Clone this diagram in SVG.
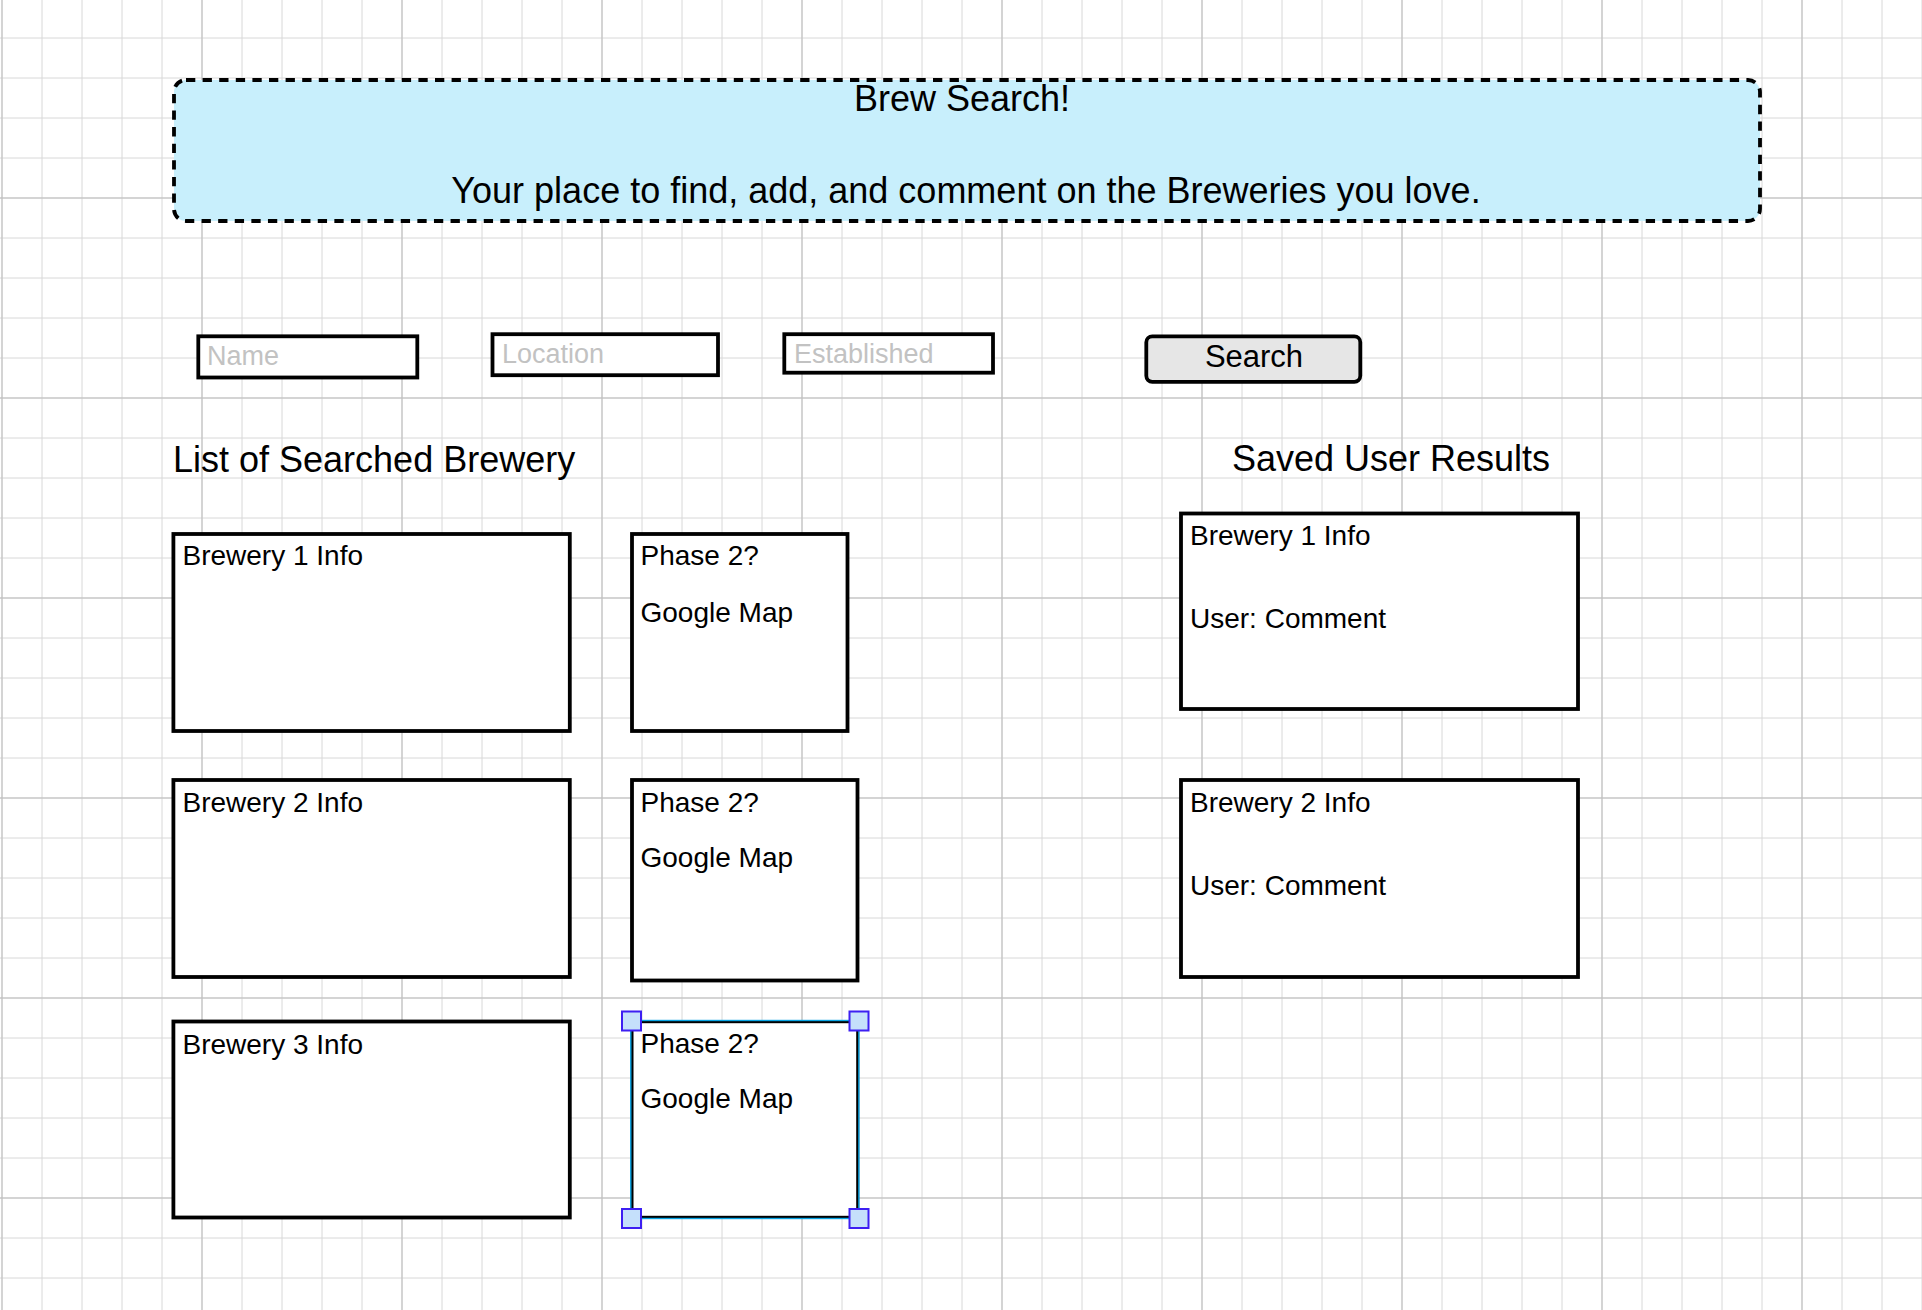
<svg xmlns="http://www.w3.org/2000/svg" width="1922" height="1310" viewBox="0 0 1922 1310">
  <style>
    text { font-family: "Liberation Sans", Arial, Helvetica, sans-serif; fill: #000; }
    .box { fill: #fff; stroke: #000; stroke-width: 3.8; }
    .input { fill: #fff; stroke: #000; stroke-width: 3.8; }
    .ph { font-size: 27px; fill: #c2c2c2; }
    .lbl { font-size: 28px; }
    .big { font-size: 36px; }
    .handle { fill: #c5e0fb; stroke: #3d1ff2; stroke-width: 2; }
  </style>
  <defs>
    <pattern id="gridMinor" x="0" y="37" width="40" height="40" patternUnits="userSpaceOnUse">
      <path d="M2 0 V40 M0 1 H40" fill="none" stroke="#d8d8d8" stroke-width="1"/>
    </pattern>
    <pattern id="gridMajor" x="0" y="-3" width="200" height="200" patternUnits="userSpaceOnUse">
      <path d="M2 0 V200 M0 1 H200" fill="none" stroke="#bdbdbd" stroke-width="1"/>
    </pattern>
  </defs>

  <rect x="0" y="0" width="1922" height="1310" fill="#ffffff"/>
  <rect x="0" y="0" width="1922" height="1310" fill="url(#gridMinor)"/>
  <rect x="0" y="0" width="1922" height="1310" fill="url(#gridMajor)"/>

  <g id="header">
    <rect x="174" y="80" width="1586" height="141" rx="12" ry="12" fill="#c8effc" stroke="#000" stroke-width="3.8" stroke-dasharray="9.3 7.3"/>
    <text class="big" x="962" y="111" text-anchor="middle">Brew Search!</text>
    <text class="big" x="966" y="203" text-anchor="middle">Your place to find, add, and comment on the Breweries you love.</text>
  </g>

  <g id="input-name">
    <rect class="input" x="198.3" y="336.3" width="219" height="41.2"/>
    <text class="ph" x="207" y="365">Name</text>
  </g>
  <g id="input-location">
    <rect class="input" x="492.5" y="334.2" width="225.5" height="41"/>
    <text class="ph" x="502" y="363">Location</text>
  </g>
  <g id="input-established">
    <rect class="input" x="784.3" y="334.2" width="208.7" height="38.5"/>
    <text class="ph" x="794" y="363">Established</text>
  </g>
  <g id="search-button">
    <rect x="1146.3" y="336.3" width="214" height="45.5" rx="6" ry="6" fill="#e6e6e6" stroke="#000" stroke-width="3.8"/>
    <text x="1254" y="367" text-anchor="middle" font-size="31">Search</text>
  </g>

  <g id="list-title">
    <text class="big" x="173" y="472">List of Searched Brewery</text>
  </g>
  <g id="saved-title">
    <text class="big" x="1391" y="471" text-anchor="middle">Saved User Results</text>
  </g>

  <g id="brewery-1">
    <rect class="box" x="173.4" y="534" width="396.4" height="197"/>
    <text class="lbl" x="182.5" y="565">Brewery 1 Info</text>
  </g>
  <g id="brewery-2">
    <rect class="box" x="173.4" y="780" width="396.4" height="197"/>
    <text class="lbl" x="182.5" y="811.5">Brewery 2 Info</text>
  </g>
  <g id="brewery-3">
    <rect class="box" x="173.4" y="1021.5" width="396.4" height="196"/>
    <text class="lbl" x="182.5" y="1053.5">Brewery 3 Info</text>
  </g>

  <g id="map-1">
    <rect class="box" x="632" y="534" width="215.5" height="197"/>
    <text class="lbl" x="640.5" y="565">Phase 2?</text>
    <text class="lbl" x="640.5" y="621.5">Google Map</text>
  </g>
  <g id="map-2">
    <rect class="box" x="632" y="780" width="225.5" height="200.5"/>
    <text class="lbl" x="640.5" y="811.5">Phase 2?</text>
    <text class="lbl" x="640.5" y="867">Google Map</text>
  </g>
  <g id="map-3">
    <rect x="632" y="1021.7" width="225.7" height="195.6" fill="#fff" stroke="#000" stroke-width="3"/>
    <rect x="630.8" y="1020.5" width="228.1" height="198" fill="none" stroke="#08a4e4" stroke-width="1.4"/>
    <text class="lbl" x="640.5" y="1053.3">Phase 2?</text>
    <text class="lbl" x="640.5" y="1108.3">Google Map</text>
    <rect class="handle" x="622" y="1011.5" width="19" height="19"/>
    <rect class="handle" x="849.5" y="1011.5" width="19" height="19"/>
    <rect class="handle" x="622" y="1209" width="19" height="19"/>
    <rect class="handle" x="849.5" y="1209" width="19" height="19"/>
  </g>

  <g id="saved-1">
    <rect class="box" x="1181" y="513.5" width="397" height="195.5"/>
    <text class="lbl" x="1190" y="545">Brewery 1 Info</text>
    <text class="lbl" x="1190" y="628">User: Comment</text>
  </g>
  <g id="saved-2">
    <rect class="box" x="1181" y="780" width="397" height="197"/>
    <text class="lbl" x="1190" y="811.5">Brewery 2 Info</text>
    <text class="lbl" x="1190" y="895">User: Comment</text>
  </g>

  <g id="connectors"/>
</svg>
